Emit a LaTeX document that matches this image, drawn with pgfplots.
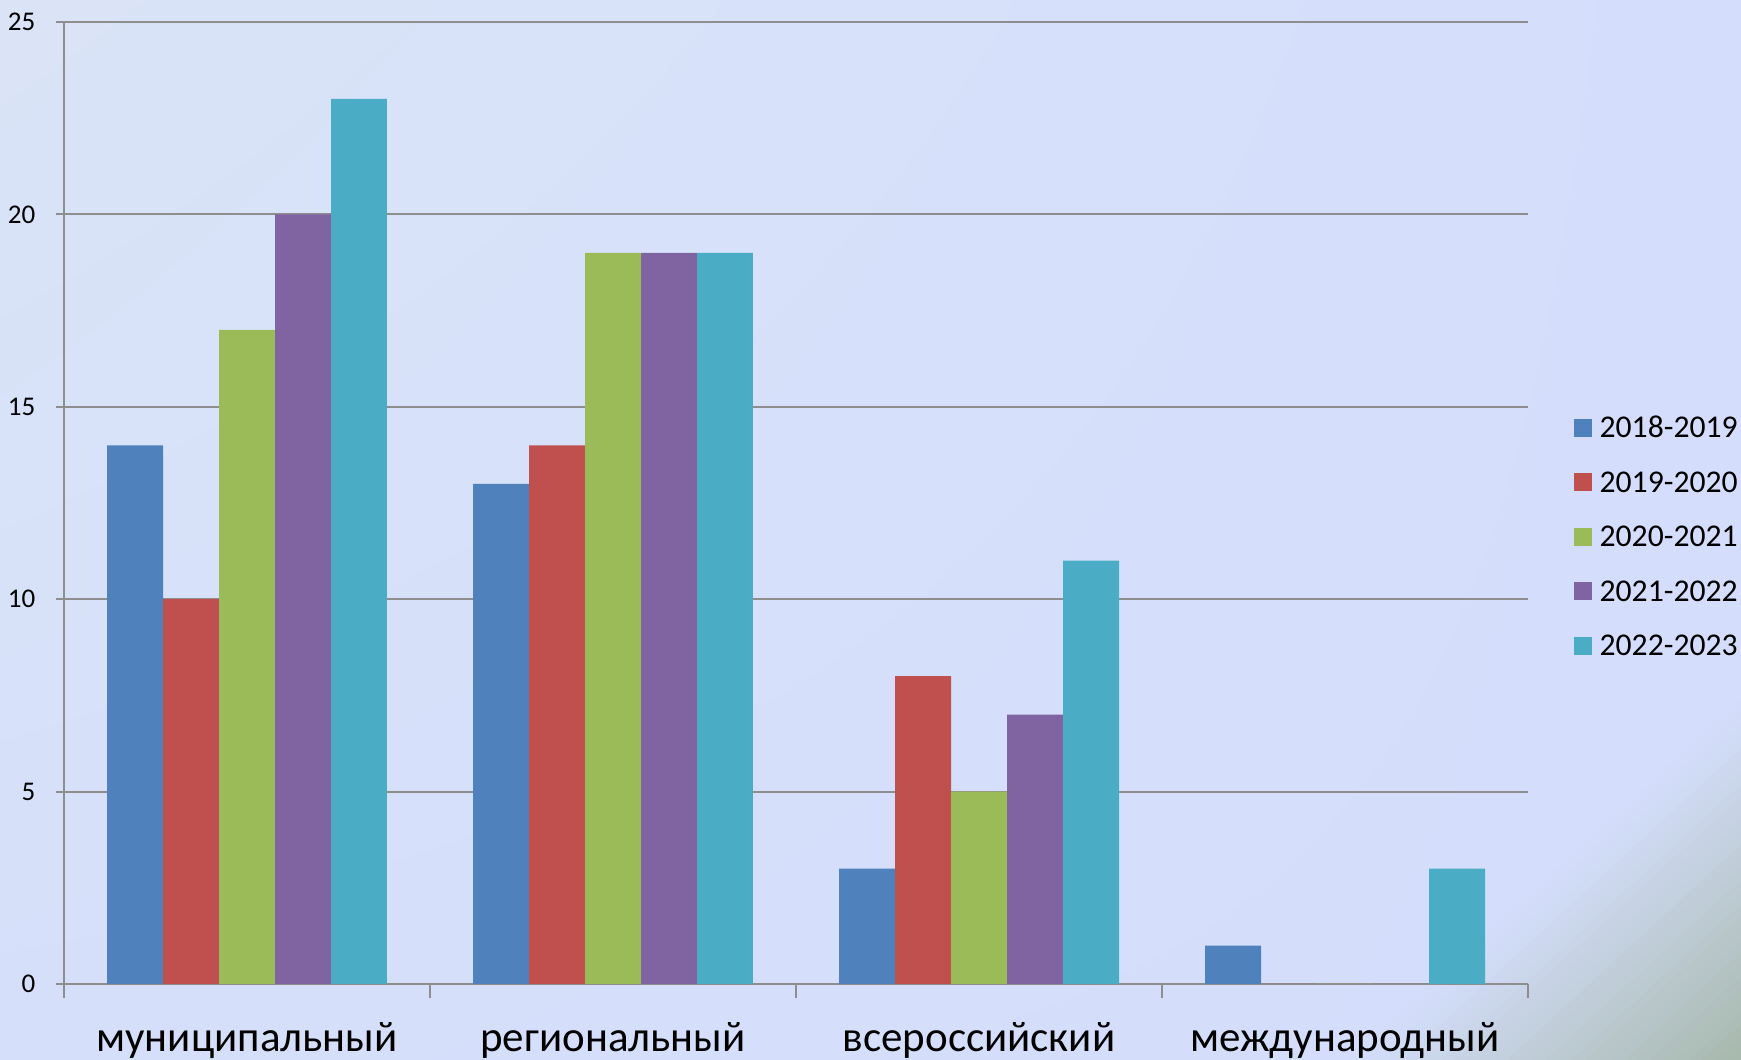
\documentclass[border=0pt]{standalone}
\usepackage{pgfplots}
\pgfplotsset{compat=1.18}
\usetikzlibrary{shadings}
\usepackage{fontspec}
\setmainfont{Carlito}
\definecolor{s1}{HTML}{4F81BD}
\definecolor{s2}{HTML}{C0504D}
\definecolor{s3}{HTML}{9BBB59}
\definecolor{s4}{HTML}{8064A2}
\definecolor{s5}{HTML}{4BACC6}
\definecolor{bgA}{HTML}{DAE4F6}
\definecolor{bgB}{HTML}{D4DEFC}
\definecolor{bgC}{HTML}{D5DFFA}
\definecolor{bgD}{HTML}{A7B8AC}
\definecolor{axgray}{HTML}{8E8E8E}
\begin{document}
\begin{tikzpicture}
\useasboundingbox (0,0) rectangle (522.3pt,318pt);
\shade[upper left=bgA, upper right=bgB, lower left=bgC, lower right=bgB] (0,0) rectangle (522.3pt,318pt);
\foreach \k in {0,...,29}{
  \pgfmathtruncatemacro{\pct}{round(100*(\k+0.5)/30)}
  \pgfmathsetmacro{\xa}{522.3-\k*117.3/30}
  \pgfmathsetmacro{\ya}{\k*108/30}
  \pgfmathsetmacro{\xb}{522.3-(\k+1)*117.3/30-0.4}
  \pgfmathsetmacro{\yb}{(\k+1)*108/30+0.4}
  \colorlet{bandc}{bgB!\pct!bgD}
  \fill[bandc] (\xa pt,0pt) -- (522.3pt,\ya pt) -- (522.3pt,\yb pt) -- (\xb pt,0pt) -- cycle;
}
\begin{axis}[
  at={(19.2pt,22.8pt)}, anchor=south west,
  scale only axis, width=439.2pt, height=288.6pt,
  ybar=0pt, bar width=0.153,
  xmin=-0.5, xmax=3.5, ymin=0, ymax=25,
  xtick={0,1,2,3},
  xticklabels={муниципальный,региональный,всероссийский,международный},
  minor xtick={-0.5,0.5,1.5,2.5,3.5},
  ytick={0,5,10,15,20,25},
  tick align=outside,
  major tick length=2.4pt, minor tick length=4.2pt,
  tick style={color=axgray, line width=0.6pt},
  major x tick style={draw=none},
  ymajorgrids, grid style={color=axgray, line width=0.6pt},
  axis x line*=bottom, axis y line*=left,
  axis line style={-, color=axgray, line width=0.6pt},
  xticklabel style={font=\fontsize{12.9}{15}\selectfont, anchor=base, yshift=-18pt},
  yticklabel style={font=\fontsize{8.1}{10}\selectfont, xshift=-2.7pt},
  /pgf/number format/assume math mode=true,
  legend style={draw=none, fill=none, at={(rel axis cs:1.0307,0.4647)}, anchor=west,
    font=\fontsize{9.5}{11.4}\selectfont, inner sep=0pt, row sep=9.35pt,
    nodes={inner sep=0pt, text height=6.5pt, text depth=0.5pt}},
  legend cell align=left,
  legend image code/.code={\fill[#1] (0pt,-2.7pt) rectangle (5.4pt,2.7pt); \path (7.8pt,0pt);},
  every axis plot/.append style={draw=none},
]
\addplot[fill=s1, draw=none] coordinates {(0,14) (1,13) (2,3) (3,1)};
\addplot[fill=s2, draw=none] coordinates {(0,10) (1,14) (2,8) (3,0)};
\addplot[fill=s3, draw=none] coordinates {(0,17) (1,19) (2,5) (3,0)};
\addplot[fill=s4, draw=none] coordinates {(0,20) (1,19) (2,7) (3,0)};
\addplot[fill=s5, draw=none] coordinates {(0,23) (1,19) (2,11) (3,3)};
\legend{2018-2019,2019-2020,2020-2021,2021-2022,2022-2023}
\end{axis}
\end{tikzpicture}
\end{document}
